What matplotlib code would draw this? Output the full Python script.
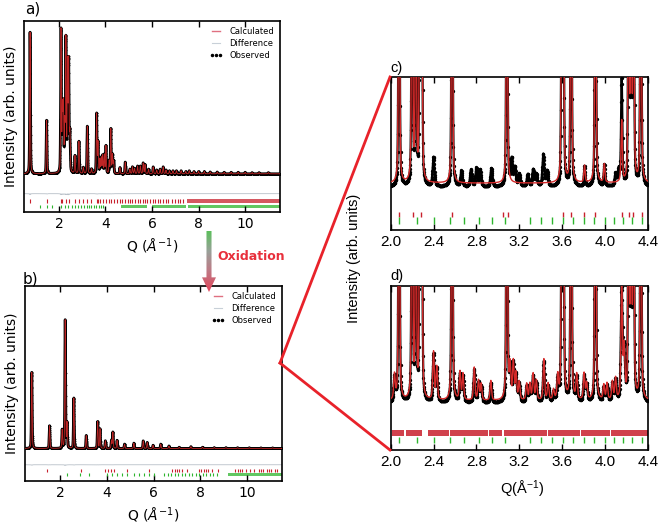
import numpy as np
import matplotlib
matplotlib.use('Agg')
import matplotlib.pyplot as plt
from matplotlib.lines import Line2D
from matplotlib.patches import Polygon
from matplotlib.colors import LinearSegmentedColormap

# ---------------- data ----------------
# panel a (before oxidation): peak positions Q (1/A) and heights (fraction of axes span)
a_peak_q = [0.76, 1.47, 2.09, 2.15, 2.19, 2.25, 2.30, 2.37, 2.42, 2.47, 2.69, 2.86, 3.05,
            3.22, 3.40, 3.62, 3.68, 3.76, 3.82, 3.88, 3.95, 4.02, 4.16, 4.23, 4.30, 4.35,
            4.62, 4.85, 5.05, 5.16, 5.25, 5.38, 5.50, 5.62, 5.70, 5.85, 6.05, 6.20, 6.35,
            6.48, 6.60, 6.75, 6.90, 7.05, 7.25, 7.45, 7.60, 7.80, 8.00, 8.25, 8.50, 8.80,
            9.10, 9.40, 9.70, 10.0, 10.3, 10.6, 11.0]
a_peak_h = [0.93, 0.35, 0.93, 0.40, 0.42, 0.30, 0.86, 0.70, 0.71, 0.25, 0.115, 0.21, 0.04,
            0.31, 0.03, 0.39, 0.20, 0.09, 0.10, 0.115, 0.12, 0.18, 0.08, 0.29, 0.12, 0.08,
            0.04, 0.076, 0.03, 0.045, 0.035, 0.05, 0.05, 0.07, 0.06, 0.03, 0.045, 0.025, 0.03,
            0.045, 0.025, 0.02, 0.02, 0.02, 0.02, 0.015, 0.02, 0.015, 0.015, 0.015, 0.012, 0.012,
            0.01, 0.01, 0.01, 0.01, 0.008, 0.008, 0.008]

# panel b (after oxidation)
b_peak_q = [0.79, 1.55, 2.09, 2.22, 2.30, 2.59, 3.12, 3.61, 3.71, 3.94, 4.20, 4.26, 4.44,
            4.76, 5.16, 5.56, 5.73, 5.98, 6.31, 6.66, 7.10, 7.60, 8.10, 8.60, 9.10, 9.60,
            10.1, 10.6, 11.1]
b_peak_h = [0.47, 0.14, 0.113, 0.79, 0.15, 0.31, 0.08, 0.165, 0.12, 0.047, 0.05, 0.10, 0.05,
            0.027, 0.033, 0.047, 0.037, 0.02, 0.027, 0.016, 0.008, 0.012, 0.008, 0.006, 0.006,
            0.005, 0.005, 0.004, 0.004]

# reflection tick positions, panels a and b (single ticks + dense bands)
a_red_ticks = [0.76, 1.47, 2.09, 2.15, 2.30, 2.42, 2.69, 2.86, 3.05, 3.22, 3.36, 3.62, 3.68,
               3.76, 3.88, 4.02, 4.16, 4.23, 4.35, 4.48, 4.62, 4.73, 4.85, 4.96, 5.05, 5.16,
               5.25, 5.38, 5.50, 5.62, 5.70, 5.80, 5.90, 6.05, 6.15, 6.25, 6.35, 6.48, 6.60,
               6.70, 6.85, 7.00, 7.10, 7.20, 7.35]
a_red_bands = [(7.5, 11.5)]
a_green_ticks = [1.19, 1.47, 1.69, 2.08, 2.25, 2.40, 2.56, 2.69, 2.82, 2.95, 3.07, 3.19,
                 3.30, 3.40, 3.51, 3.61, 3.71, 3.81, 3.90]
a_green_bands = [(4.68, 5.78), (5.98, 7.45), (7.55, 11.5)]

b_red_ticks = [1.43, 2.91, 3.94, 4.05, 4.20, 4.33, 4.87, 5.80, 6.80, 6.90, 7.00, 7.10, 7.20,
               7.45, 7.95, 8.05, 8.15, 8.25, 8.35, 8.50, 8.75, 9.50, 9.60, 9.70, 9.80, 9.95,
               10.15, 10.3, 10.5, 10.6, 10.7, 10.85, 10.95, 11.05, 11.2, 11.3]
b_red_bands = []
b_green_ticks = [2.29, 2.84, 3.26, 3.99, 4.22, 4.45, 4.66, 4.88, 5.15, 5.37, 5.59, 5.80, 6.02,
                 6.45, 6.60, 6.75, 6.90, 7.05, 7.20, 7.35, 7.50, 7.65, 7.80, 7.95, 8.10, 8.25,
                 8.40, 8.55, 8.70]
b_green_bands = [(9.2, 11.5)]

# zoomed panels c/d (2.0-4.4): strong main-phase peaks, run off scale
strong_q = [2.078, 2.200, 2.235, 2.272, 2.290, 2.573, 3.085, 3.598, 3.612, 3.685, 3.912,
            4.222, 4.245, 4.268, 4.336]
strong_h = [2.2, 2.2, 1.6, 1.6, 1.6, 2.2, 2.2, 1.6, 1.6, 2.2, 2.2, 1.6, 1.6, 1.6, 2.2]

# panel c: small peaks present in both curves, calc and obs heights
c_shared_q = [3.81, 3.995, 4.157]
c_shared_calc_h = [0.11, 0.12, 0.40]
c_shared_obs_h = [0.13, 0.14, 0.69]
# panel c: peaks only in the observed data (not fitted)
c_extra_q = [2.40, 2.66, 2.75, 2.80, 2.835, 2.94, 3.13, 3.16, 3.20, 3.28, 3.33, 3.36,
             3.425, 3.46, 4.10, 4.13]
c_extra_h = [0.19, 0.10, 0.11, 0.12, 0.11, 0.12, 0.17, 0.12, 0.08, 0.08, 0.11, 0.08,
             0.21, 0.10, 0.08, 0.10]
c_bg_calc = 0.305
c_bg_obs = 0.28

# panel d: minor peaks fitted by the two-phase model
d_minor_q = [2.035, 2.40, 2.43, 2.647, 2.675, 2.78, 2.82, 2.845, 2.935, 3.115, 3.145, 3.17,
             3.20, 3.27, 3.30, 3.33, 3.36, 3.43, 3.47, 3.52, 3.56, 3.737, 3.806, 3.83,
             3.99, 4.02, 4.07, 4.10, 4.157, 4.18]
d_minor_h = [0.15, 0.29, 0.20, 0.17, 0.16, 0.20, 0.12, 0.10, 0.12, 0.20, 0.23, 0.16,
             0.11, 0.10, 0.10, 0.16, 0.12, 0.25, 0.10, 0.06, 0.14, 0.15, 0.16, 0.10,
             0.09, 0.10, 0.11, 0.13, 0.67, 0.30]
d_bg_calc = 0.30
d_bg_obs = 0.285

c_red_ticks = [2.078, 2.212, 2.287, 2.576, 3.046, 3.093, 3.606, 3.687, 3.809, 3.912, 4.157,
               4.229, 4.266, 4.344]
cd_green_ticks = [2.081, 2.246, 2.402, 2.551, 2.688, 2.822, 2.946, 3.071, 3.298, 3.404,
                  3.507, 3.613, 3.707, 3.806, 3.902, 3.999, 4.083, 4.167, 4.257, 4.344]
d_red_bands = [(2.01, 2.12), (2.14, 2.29), (2.345, 2.54), (2.555, 2.905), (2.915, 3.035),
               (3.055, 3.455), (3.465, 3.765), (3.775, 4.045), (4.055, 4.40)]

RED = '#c8202c'
GREEN = '#2db52d'
CALC = '#d42a2a'


def peaks(q, centers, heights, fwhm, eta=0.4):
    """pseudo-Voigt sum of peaks"""
    x = (q[:, None] - np.asarray(centers)[None, :]) / (fwhm / 2.0)
    shape = eta / (1 + x ** 2) + (1 - eta) * np.exp(-np.log(2) * x ** 2)
    return (shape * np.asarray(heights)[None, :]).sum(axis=1)


def draw_ticks(ax, ticks, bands, y, hh, color):
    ax.vlines(ticks, y - hh, y + hh, color=color, lw=0.8)
    if bands:
        ax.broken_barh([(s, e - s) for s, e in bands], (y - hh, 2 * hh),
                       facecolor=color, edgecolor='none', alpha=0.75)


def full_panel(ax, pq, ph, red, redb, green, greenb, ylo, ydiff, yred, ygreen, hh):
    q = np.linspace(0.5, 11.5, 4000)
    obs = peaks(q, pq, ph, 0.036)
    calc = peaks(q, pq, ph, 0.037)
    ax.plot(q, obs, color='k', lw=2.0, zorder=2)
    ax.plot(q, obs, 'k.', ms=2.6, mew=0, zorder=2)
    ax.plot(q, calc, color=CALC, lw=0.6, alpha=0.9, zorder=3)
    ax.plot(q, ydiff + 0.3 * (obs - calc), color='#b8c0c8', lw=0.6, zorder=2)
    draw_ticks(ax, red, redb, yred, hh, RED)
    draw_ticks(ax, green, greenb, ygreen, hh, GREEN)
    ax.set_xlim(0.5, 11.5)
    ax.set_ylim(ylo, 1.0)
    ax.set_yticks([])
    ax.set_xticks([2, 4, 6, 8, 10])
    ax.tick_params(axis='x', direction='in', top=True, length=4, width=1, labelsize=10)
    for s in ax.spines.values():
        s.set_linewidth(1.2)
    ax.set_xlabel(r'Q ($\AA^{-1}$)', fontsize=10, labelpad=4)
    ax.set_ylabel('Intensity (arb. units)', fontsize=10, labelpad=4)
    handles = [Line2D([], [], color='#e07080', lw=1.0),
               Line2D([], [], color='#c8d0d8', lw=0.8),
               Line2D([], [], color='k', ls='none', marker='.', ms=3)]
    ax.legend(handles, ['Calculated', 'Difference', 'Observed'],
              loc='upper right', frameon=False, fontsize=6, handlelength=1.6,
              labelspacing=0.35, numpoints=3, borderaxespad=0.3)


def zoom_panel(ax, obs, calc, q):
    ax.plot(q, obs, color='k', lw=1.6, zorder=2)
    ax.plot(q[::2], obs[::2], 'o', color='k', ms=2.4, mew=0, zorder=2)
    ax.plot(q, calc, color=CALC, lw=1.0, zorder=3)
    ax.set_xlim(2.0, 4.4)
    ax.set_ylim(0, 1)
    ax.set_yticks([])
    ax.set_xticks([2.0, 2.4, 2.8, 3.2, 3.6, 4.0, 4.4])
    ax.set_xticklabels(['2.0', '2.4', '2.8', '3.2', '3.6', '4.0', '4.4'],
                       family='Liberation Sans')
    ax.tick_params(axis='x', direction='in', top=True, length=4, width=1, labelsize=11)
    for s in ax.spines.values():
        s.set_linewidth(1.2)


fig = plt.figure(figsize=(6.61, 5.27), dpi=100)
W, H = 661.0, 527.0


def px_axes(l, t, r, b):
    return fig.add_axes([l / W, 1 - b / H, (r - l) / W, (b - t) / H])


ax_a = px_axes(24, 21, 280, 212)
full_panel(ax_a, a_peak_q, a_peak_h, a_red_ticks, a_red_bands, a_green_ticks, a_green_bands,
           -0.25, -0.13, -0.18, -0.215, 0.012)
ax_b = px_axes(25, 286, 282, 481)
full_panel(ax_b, b_peak_q, b_peak_h, b_red_ticks, b_red_bands, b_green_ticks, b_green_bands,
           -0.2, -0.10, -0.136, -0.16, 0.01)

qz = np.linspace(2.0, 4.4, 2400)
strong = peaks(qz, strong_q, strong_h, 0.013, eta=0.45)
c_calc = c_bg_calc + strong + peaks(qz, c_shared_q, c_shared_calc_h, 0.014, eta=0.5)
c_obs = (c_bg_obs + strong + peaks(qz, c_shared_q, c_shared_obs_h, 0.014, eta=0.5)
         + peaks(qz, c_extra_q, c_extra_h, 0.02, eta=0.5))
d_calc = d_bg_calc + strong + peaks(qz, d_minor_q, d_minor_h, 0.016, eta=0.5)
d_obs = d_bg_obs + strong + peaks(qz, d_minor_q, d_minor_h, 0.018, eta=0.5)

ax_c = px_axes(390.7, 76.7, 647.7, 230)
zoom_panel(ax_c, c_obs, c_calc, qz)
ax_c.vlines(c_red_ticks, 0.088, 0.12, color=RED, lw=1.0)
ax_c.vlines(cd_green_ticks, 0.042, 0.084, color=GREEN, lw=1.0)

ax_d = px_axes(390.7, 286, 647.7, 450)
zoom_panel(ax_d, d_obs, d_calc, qz)
ax_d.broken_barh([(s, e - s) for s, e in d_red_bands], (0.087, 0.035),
                 facecolor=RED, edgecolor='none', alpha=0.85)
ax_d.vlines(cd_green_ticks, 0.042, 0.082, color=GREEN, lw=1.0)

# panel letters and shared labels
fig.text(25 / W, 1 - 2 / H, 'a)', fontsize=11, va='top')
fig.text(23 / W, 1 - 272 / H, 'b)', fontsize=11, va='top')
fig.text(390 / W, 1 - 61 / H, 'c)', fontsize=10.5, va='top', family='Liberation Sans')
fig.text(390 / W, 1 - 269 / H, 'd)', fontsize=10.5, va='top', family='Liberation Sans')
fig.text(354 / W, 1 - 258 / H, 'Intensity (arb. units)', rotation=90, ha='center',
         va='center', fontsize=10.5, family='Liberation Sans')
fig.text(522 / W, 1 - 489 / H, r'Q($\mathregular{\AA^{-1}}$)', ha='center', va='center',
         fontsize=10.5, family='Liberation Sans')

# red zoom lines from panel b to c/d
for (x1, y1) in [(390, 77), (390, 450)]:
    fig.add_artist(Line2D([280 / W, x1 / W], [1 - 363 / H, 1 - y1 / H],
                          color='#e8222a', lw=2.0, transform=fig.transFigure))

# oxidation arrow with green -> grey -> red gradient
arr = px_axes(202, 231, 216, 292)
arr.set_axis_off()
arr.set_xlim(0, 1)
arr.set_ylim(0, 1)
cmap = LinearSegmentedColormap.from_list('ox', ['#e2455a', '#c07884', '#9aa09a', '#5cbf5c'])
img = arr.imshow(np.linspace(0, 1, 100)[:, None], extent=[0, 1, 0, 1], origin='lower',
                 aspect='auto', cmap=cmap)
shape = Polygon([(0.32, 1.0), (0.68, 1.0), (0.68, 0.24), (1.0, 0.24), (0.5, 0.0),
                 (0.0, 0.24), (0.32, 0.24)], closed=True, facecolor='none', edgecolor='none',
                transform=arr.transData)
arr.add_patch(shape)
img.set_clip_path(shape)
fig.text(217 / W, 1 - 257 / H, 'Oxidation', color='#e8303c', fontsize=9, fontweight='bold',
         va='center', ha='left')

fig.savefig('out.png', dpi=100)
